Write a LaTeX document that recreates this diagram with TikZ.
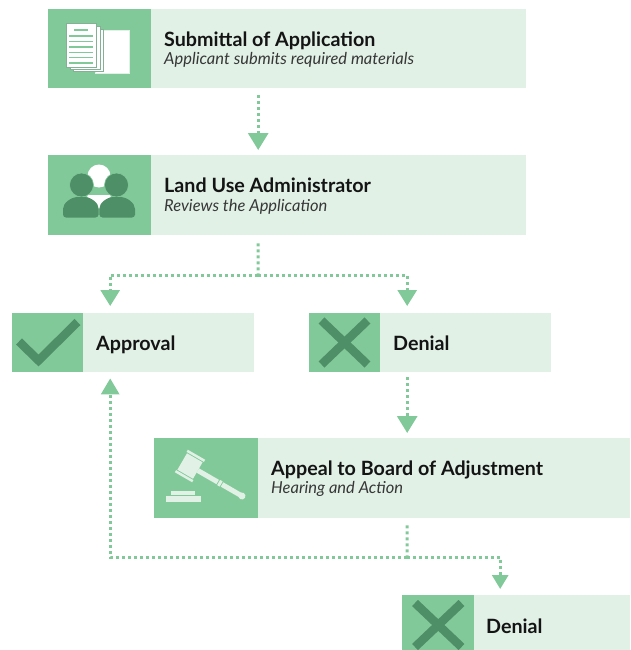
\documentclass[tikz,border=0pt]{standalone}
\usepackage{fontspec}
\setmainfont{Lato}
\usetikzlibrary{arrows.meta}
\definecolor{boxgreen}{HTML}{E1F1E6}
\definecolor{icongreen}{HTML}{82C99A}
\definecolor{darkgreen}{HTML}{4F8F67}
\definecolor{textblack}{HTML}{141414}
\tikzset{
  stepbox/.style={fill=boxgreen,inner sep=0pt,anchor=north west},
  iconbox/.style={fill=icongreen,inner sep=0pt,anchor=north west},
  steptext/.style={anchor=west,inner sep=0pt,text height=14.3pt,text depth=4.3pt,text=textblack,font=\fontsize{19.7}{20}\selectfont\bfseries},
  subtext/.style={anchor=west,inner sep=0pt,text height=12.5pt,text depth=3.5pt,text=textblack!85,font=\fontsize{16.5}{17}\selectfont\itshape},
  flowline/.style={icongreen,line width=3pt,dash pattern=on 3pt off 3pt},
  flowarrow/.style={flowline,-{Triangle[width=20pt,length=17pt]},shorten >=5pt},
  sheet/.style={fill=white,draw=darkgreen!70,line width=0.6pt},
  crossmark/.style={darkgreen,line width=8.5pt},
  gavelpart/.style={fill=boxgreen}
}
\begin{document}
\begin{tikzpicture}[x=1pt,y=-1pt]
\useasboundingbox (0,0) rectangle (630,650);

\node[stepbox,minimum width=478pt,minimum height=79pt] (submittal) at (48,9) {};
\node[iconbox,minimum width=103pt,minimum height=79pt] (submittalicon) at (48,9) {};
\node[steptext] (submittaltitle) at (164,41.7) {Submittal of Application};
\node[subtext] (submittalsub) at (164,60.5) {Applicant submits required materials};

\node[stepbox,minimum width=478pt,minimum height=80pt] (admin) at (48,155) {};
\node[iconbox,minimum width=103pt,minimum height=80pt] (adminicon) at (48,155) {};
\node[steptext] (admintitle) at (164,187.7) {Land Use Administrator};
\node[subtext] (adminsub) at (164,206.5) {Reviews the Application};

\node[stepbox,minimum width=242pt,minimum height=59pt] (approval) at (12,313) {};
\node[iconbox,minimum width=71pt,minimum height=59pt] (approvalicon) at (12,313) {};
\node[steptext] (approvaltitle) at (96,345.4) {Approval};

\node[stepbox,minimum width=242pt,minimum height=59pt] (denial) at (309,313) {};
\node[iconbox,minimum width=71pt,minimum height=59pt] (denialicon) at (309,313) {};
\node[steptext] (denialtitle) at (393,345.4) {Denial};

\node[stepbox,minimum width=476pt,minimum height=80pt] (appeal) at (154,438) {};
\node[iconbox,minimum width=104pt,minimum height=80pt] (appealicon) at (154,438) {};
\node[steptext] (appealtitle) at (271,470) {Appeal to Board of Adjustment};
\node[subtext] (appealsub) at (271,489) {Hearing and Action};

\node[stepbox,minimum width=228pt,minimum height=55pt] (finaldenial) at (402,595) {};
\node[iconbox,minimum width=72pt,minimum height=55pt] (finaldenialicon) at (402,595) {};
\node[steptext] (finaldenialtitle) at (486,628) {Denial};

\coordinate (splitadmin) at (258,275);
\coordinate (splitappeal) at (407,557);

\draw[flowarrow,shorten <=7pt] ([xshift=-29pt]submittal.south) -- ([xshift=-29pt]admin.north);
\draw[flowline,shorten <=8pt] ([xshift=-29pt]admin.south) -- (splitadmin);
\draw[flowarrow,shorten >=7pt,-{Triangle[width=19pt,length=16pt]}] (splitadmin) -| ([xshift=-23pt]approval.north);
\draw[flowarrow,shorten >=7pt,-{Triangle[width=19pt,length=16pt]}] (splitadmin) -| ([xshift=-23pt]denial.north);
\draw[flowarrow,shorten <=5pt] ([xshift=-23pt]denial.south) -- ([xshift=15pt]appeal.north);
\draw[flowline,shorten <=7pt] ([xshift=15pt]appeal.south) -- (splitappeal);
\draw[flowarrow,shorten >=6pt,-{Triangle[width=18pt,length=16pt]}] (splitappeal) -| ([xshift=-23pt]approval.south);
\draw[flowarrow,shorten >=6pt,-{Triangle[width=16pt,length=14pt]}] (splitappeal) -| ([xshift=-16pt]finaldenial.north);

\draw[fill=white,draw=boxgreen,line width=0.7pt] (95,30) rectangle (129,73);
\draw[sheet] (73,29) rectangle (103,71);
\draw[sheet] (70,26) rectangle (100,69);
\draw[sheet] (66,23) rectangle (96,67);
\draw[icongreen,line width=1.2pt] (74,30) -- (88,30);
\foreach \liney in {36,41.5,47,52.5,57.5,63}
  \draw[icongreen,line width=1.2pt] (69,\liney) -- (93,\liney);

\fill[white] (99,176) circle (11.5);
\fill[white] (86,195) -- (112,195) -- (99,209) -- cycle;
\fill[darkgreen,draw=icongreen,line width=0.6pt] (81.5,185) circle (12);
\fill[darkgreen,draw=icongreen,line width=0.6pt] (116.5,185) circle (12);
\fill[darkgreen,rounded corners=3pt] (63,217.5) -- (63,212) .. controls (63,203) and (71,197) .. (81,197) .. controls (91,197) and (99,203) .. (98.5,212) -- (98.5,217.5) -- cycle;
\fill[darkgreen,rounded corners=3pt] (99.5,217.5) -- (99.5,212) .. controls (99,203) and (107,197) .. (117,197) .. controls (127,197) and (135,203) .. (135,212) -- (135,217.5) -- cycle;

\draw[crossmark] (19,341.5) -- (38.5,360.5) -- (77.5,322);

\draw[crossmark] (321.5,320.5) -- (367.5,364.5);
\draw[crossmark] (367.5,320.5) -- (321.5,364.5);
\begin{scope}
\clip (402,595) rectangle (474,650);
\draw[crossmark] (415,603) -- (461.5,647);
\draw[crossmark] (461.5,603) -- (415,647);
\end{scope}

\fill[gavelpart] (165.5,496) rectangle (200.5,502);
\fill[gavelpart] (171,491) rectangle (194.5,494.5);
\begin{scope}[shift={(190,466)},rotate=-30]
\fill[gavelpart] (-10,-13) rectangle (10,-10.5);
\fill[gavelpart] (-9,-9.5) rectangle (9,9.5);
\fill[gavelpart] (-10,10.5) rectangle (10,13);
\fill[gavelpart] (9,-2.5) rectangle (32,2.5);
\fill[gavelpart] (33,-3) rectangle (36,3);
\fill[gavelpart] (37,-2.5) rectangle (60,2.5);
\fill[gavelpart] (60,0) circle (3.5);
\end{scope}
\end{tikzpicture}
\end{document}
